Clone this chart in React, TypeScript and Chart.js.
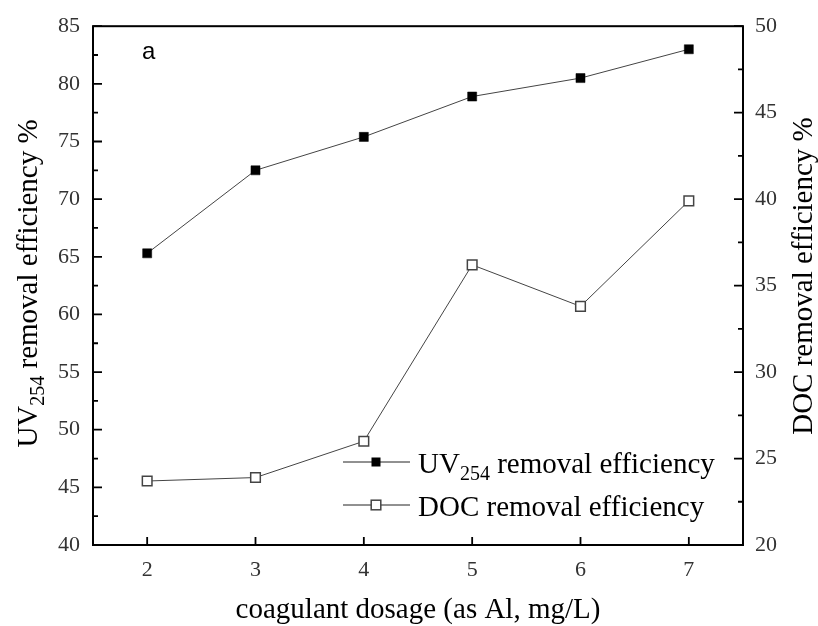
import React, { useEffect, useRef } from 'react';
import { Chart, registerables } from 'chart.js';

Chart.register(...registerables);

// ---- data ----
const dosage = [2, 3, 4, 5, 6, 7];
const uv254Removal = [65.3, 72.5, 75.4, 78.9, 80.5, 83.0];
const docRemoval = [23.7, 23.9, 26.0, 36.2, 33.8, 39.9];
const xTickValues = [2, 3, 4, 5, 6, 7];
const leftTickValues = [40, 45, 50, 55, 60, 65, 70, 75, 80, 85];
const rightTickValues = [20, 25, 30, 35, 40, 45, 50];
const panelLabel = 'a';
const xTitle = 'coagulant dosage (as Al, mg/L)';

const SERIF = '"Liberation Serif", "Times New Roman", "DejaVu Serif", serif';
const SANS = '"Liberation Sans", Arial, sans-serif';

function drawSubText(ctx: CanvasRenderingContext2D, x: number, y: number, parts: { t: string; sub?: boolean }[], size: number, center: boolean) {
  const subSize = Math.round(size * 0.7);
  const widths = parts.map((p) => {
    ctx.font = `${p.sub ? subSize : size}px ${SERIF}`;
    return ctx.measureText(p.t).width;
  });
  const total = widths.reduce((a, b) => a + b, 0);
  let cx = center ? x - total / 2 : x;
  ctx.textAlign = 'left';
  ctx.textBaseline = 'alphabetic';
  parts.forEach((p, i) => {
    ctx.font = `${p.sub ? subSize : size}px ${SERIF}`;
    ctx.fillText(p.t, cx, p.sub ? y + 7 : y);
    cx += widths[i];
  });
}

function drawMarker(ctx: CanvasRenderingContext2D, x: number, y: number, filled: boolean) {
  if (filled) {
    ctx.fillStyle = '#000';
    ctx.fillRect(x - 4.5, y - 4.5, 9, 9);
  } else {
    ctx.fillStyle = '#fff';
    ctx.strokeStyle = '#444';
    ctx.lineWidth = 1.5;
    ctx.fillRect(x - 4.8, y - 4.8, 9.6, 9.6);
    ctx.strokeRect(x - 4.8, y - 4.8, 9.6, 9.6);
  }
}

const framePlugin = {
  id: 'framePlugin',
  beforeDatasetsDraw(chart: any) {
    const { ctx, chartArea: a, scales } = chart;
    ctx.save();
    ctx.strokeStyle = '#000';
    ctx.lineWidth = 2;
    ctx.strokeRect(a.left, a.top, a.right - a.left, a.bottom - a.top);
    ctx.lineWidth = 1.8;
    ctx.beginPath();
    xTickValues.forEach((v) => {
      const px = scales.x.getPixelForValue(v);
      ctx.moveTo(px, a.bottom);
      ctx.lineTo(px, a.bottom - 8);
    });
    leftTickValues.forEach((v, i) => {
      const py = scales.y.getPixelForValue(v);
      ctx.moveTo(a.left, py);
      ctx.lineTo(a.left + 9, py);
      if (i < leftTickValues.length - 1) {
        const m = scales.y.getPixelForValue((v + leftTickValues[i + 1]) / 2);
        ctx.moveTo(a.left, m);
        ctx.lineTo(a.left + 5, m);
      }
    });
    rightTickValues.forEach((v, i) => {
      const py = scales.y1.getPixelForValue(v);
      ctx.moveTo(a.right, py);
      ctx.lineTo(a.right - 9, py);
      if (i < rightTickValues.length - 1) {
        const m = scales.y1.getPixelForValue((v + rightTickValues[i + 1]) / 2);
        ctx.moveTo(a.right, m);
        ctx.lineTo(a.right - 5, m);
      }
    });
    ctx.stroke();
    ctx.restore();
  },
  afterDraw(chart: any) {
    const { ctx, chartArea: a } = chart;
    ctx.save();
    ctx.fillStyle = '#000';
    ctx.font = `24px ${SANS}`;
    ctx.textAlign = 'left';
    ctx.textBaseline = 'alphabetic';
    ctx.fillText(panelLabel, 142, 59);

    ctx.font = `29px ${SERIF}`;
    ctx.textAlign = 'center';
    ctx.fillText(xTitle, (a.left + a.right) / 2, 618);

    ctx.save();
    ctx.translate(37, 283.5);
    ctx.rotate(-Math.PI / 2);
    drawSubText(ctx, 0, 0, [{ t: 'UV' }, { t: '254', sub: true }, { t: ' removal efficiency %' }], 29, true);
    ctx.restore();

    ctx.save();
    ctx.translate(812, 276);
    ctx.rotate(-Math.PI / 2);
    drawSubText(ctx, 0, 0, [{ t: 'DOC removal efficiency %' }], 29, true);
    ctx.restore();

    const entries = [
      { y: 462, filled: true, parts: [{ t: 'UV' }, { t: '254', sub: true }, { t: ' removal efficiency' }] },
      { y: 505, filled: false, parts: [{ t: 'DOC removal efficiency' }] },
    ];
    entries.forEach((e) => {
      ctx.strokeStyle = '#222';
      ctx.lineWidth = 1;
      ctx.beginPath();
      ctx.moveTo(343, e.y);
      ctx.lineTo(410, e.y);
      ctx.stroke();
      drawMarker(ctx, 376, e.y, e.filled);
      ctx.fillStyle = '#000';
      drawSubText(ctx, 418, e.y + 11, e.parts, 29, false);
    });
    ctx.restore();
  },
};

export default function App() {
  const ref = useRef<HTMLCanvasElement | null>(null);
  useEffect(() => {
    if (!ref.current) return;
    const tickFont = { family: SERIF, size: 22 };
    const chart = new Chart(ref.current, {
      type: 'line',
      data: {
        datasets: [
          {
            label: 'UV254 removal efficiency',
            data: dosage.map((x, i) => ({ x, y: uv254Removal[i] })),
            yAxisID: 'y',
            borderColor: '#444',
            borderWidth: 1,
            pointStyle: 'rect',
            pointRadius: 6.4,
            pointBackgroundColor: '#000',
            pointBorderColor: '#000',
            pointBorderWidth: 0.5,
            tension: 0,
          },
          {
            label: 'DOC removal efficiency',
            data: dosage.map((x, i) => ({ x, y: docRemoval[i] })),
            yAxisID: 'y1',
            borderColor: '#444',
            borderWidth: 1,
            pointStyle: 'rect',
            pointRadius: 6.8,
            pointBackgroundColor: '#fff',
            pointBorderColor: '#444',
            pointBorderWidth: 1.5,
            tension: 0,
          },
        ],
      },
      options: {
        responsive: false,
        devicePixelRatio: 1,
        animation: false,
        layout: { padding: { top: 22, left: 0, right: 0, bottom: 0 } },
        plugins: { legend: { display: false }, tooltip: { enabled: false } },
        scales: {
          x: {
            type: 'linear',
            min: 1.5,
            max: 7.5,
            afterBuildTicks: (s: any) => {
              s.ticks = xTickValues.map((v) => ({ value: v }));
            },
            afterFit: (s: any) => {
              s.height = 81;
            },
            grid: { display: false, drawTicks: false },
            border: { display: false },
            ticks: { font: tickFont, color: '#333', padding: 12, maxRotation: 0 },
          },
          y: {
            type: 'linear',
            position: 'left',
            min: 40,
            max: 85,
            afterBuildTicks: (s: any) => {
              s.ticks = leftTickValues.map((v) => ({ value: v }));
            },
            afterFit: (s: any) => {
              s.width = 93;
            },
            grid: { display: false, drawTicks: false },
            border: { display: false },
            ticks: { font: tickFont, color: '#333', padding: 13 },
          },
          y1: {
            type: 'linear',
            position: 'right',
            min: 20,
            max: 50,
            afterBuildTicks: (s: any) => {
              s.ticks = rightTickValues.map((v) => ({ value: v }));
            },
            afterFit: (s: any) => {
              s.width = 75;
            },
            grid: { display: false, drawTicks: false },
            border: { display: false },
            ticks: { font: tickFont, color: '#333', padding: 12 },
          },
        },
      },
      plugins: [framePlugin],
    } as any);
    return () => chart.destroy();
  }, []);
  return (
    <div style={{ position: 'fixed', left: 0, top: 0, width: 818, height: 626, background: '#fff' }}>
      <canvas ref={ref} width={818} height={626} style={{ width: 818, height: 626, display: 'block' }} />
    </div>
  );
}
